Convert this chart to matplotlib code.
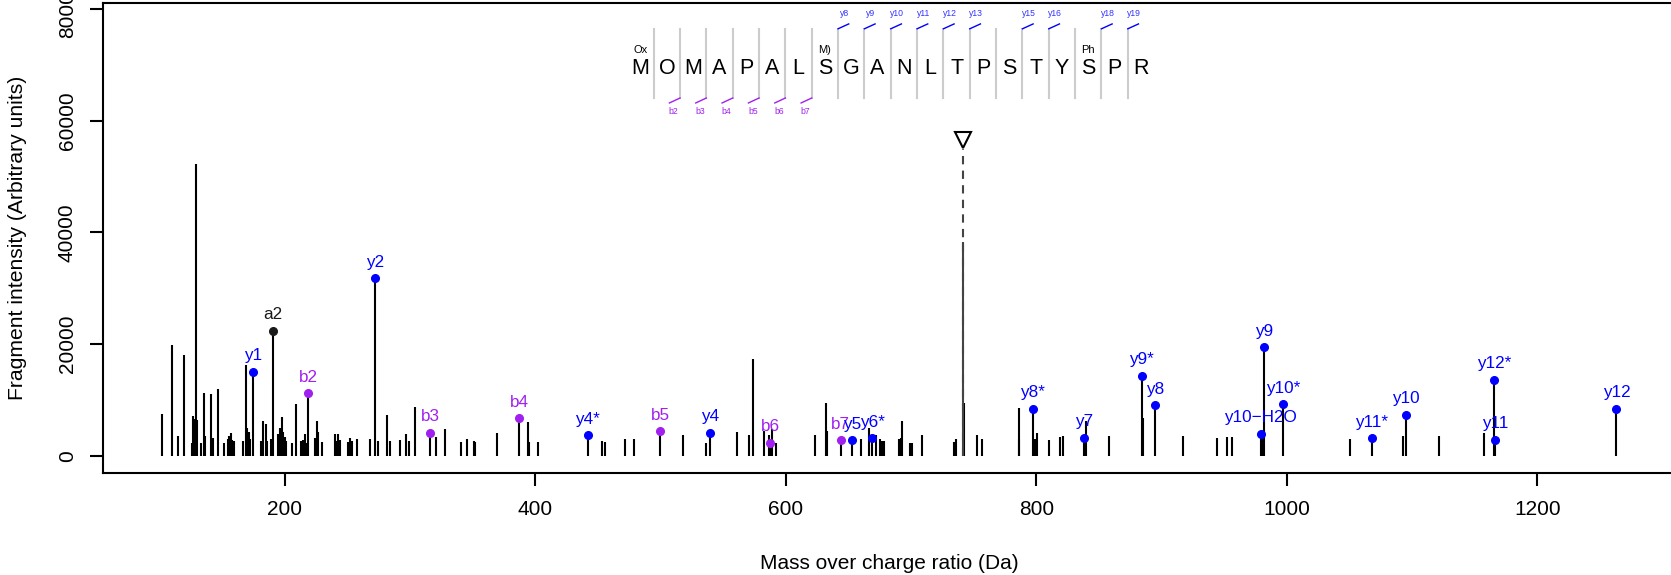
import matplotlib
matplotlib.use("Agg")
import matplotlib.pyplot as plt

plt.rcParams['font.family'] = ['Liberation Sans', 'DejaVu Sans']

# unassigned fragment peaks (m/z, intensity)
peak_mz = [101.7, 110.0, 115.0, 119.8, 125.7, 127.0, 128.1, 129.2, 130.2, 133.0,
           135.6, 136.4, 141.2, 143.0, 147.0, 151.5, 154.5, 155.9, 157.1, 158.2,
           159.5, 167.0, 168.9, 170.3, 171.4, 172.6, 180.8, 182.9, 184.8, 186.1,
           188.8, 194.9, 196.3, 197.7, 199.0, 200.2, 201.3, 205.6, 209.0, 212.8,
           214.4, 216.1, 217.6, 224.2, 225.6, 226.8, 229.9, 240.2, 241.5, 242.6,
           243.9, 250.8, 252.2, 254.0, 258.0, 268.1, 274.3, 281.9, 283.8, 292.1,
           296.8, 299.0, 303.8, 321.0, 328.2, 341.0, 345.5, 350.9, 352.2, 369.3,
           394.3, 395.3, 402.5, 453.6, 456.0, 472.0, 478.9, 518.0, 536.1, 560.9,
           571.0, 573.9, 582.9, 586.6, 589.3, 592.3, 623.1, 632.2, 633.2, 660.1,
           666.7, 671.9, 675.3, 676.9, 678.5, 690.5, 691.8, 692.9, 699.3, 701.1,
           709.1, 734.4, 735.7, 742.2, 753.0, 757.0, 786.0, 786.5, 799.3, 800.9,
           810.0, 819.0, 821.1, 839.7, 858.1, 885.0, 917.4, 944.1, 952.1, 956.1,
           980.0, 1050.3, 1093.1, 1121.4, 1157.3]
peak_int = [7440, 19800, 3550, 18000, 2240, 7130, 6600, 52240, 6400, 2240,
            11320, 3550, 11140, 3260, 12030, 2330, 3080, 3550, 4180, 2870,
            2690, 2690, 16270, 4900, 4300, 2970, 2690, 6270, 5680, 2690,
            3000, 4000, 5000, 7020, 4300, 3300, 2690, 2300, 9200, 2690,
            2870, 4000, 2390, 3200, 6270, 4300, 2500, 3880, 2690, 3880,
            2870, 2500, 3170, 2690, 3100, 3080, 2690, 7320, 2630, 2870,
            4000, 2690, 8810, 3460, 4830, 2450, 2990, 2630, 2450, 4120,
            6130, 2570, 2570, 2690, 2450, 3040, 3040, 3760, 2330, 4240,
            3820, 17290, 4450, 3820, 4750, 2390, 3820, 9530, 4420, 3020,
            5050, 3700, 3100, 2690, 2690, 3100, 3220, 6240, 2390, 2390,
            3820, 2570, 3000, 9530, 3820, 3000, 3100, 8640, 2990, 4030,
            2870, 3460, 3640, 6240, 3640, 6840, 3640, 3280, 3460, 3460,
            3700, 3080, 3550, 3550, 4030]

# assigned fragment ions
ion_labels = ["y1", "a2", "b2", "y2", "b3", "b4", "y4*", "b5", "y4", "b6",
              "b7", "y5", "y6*", "y8*", "y7", "y9*", "y8", "y10\u2212H2O", "y9", "y10*",
              "y11*", "y10", "y12*", "y11", "y12"]
ion_mz = [174.9, 190.9, 218.8, 272.2, 316.0, 387.1, 441.9, 499.9, 539.8, 587.5,
          643.9, 653.2, 669.2, 797.2, 837.9, 884.2, 895.1, 979.2, 982.1, 997.3,
          1068.1, 1095.3, 1165.3, 1166.1, 1263.2]
ion_int = [15090, 22360, 11200, 31770, 4160, 6720, 3670, 4390, 4160, 2360,
           2780, 2780, 3140, 8460, 3190, 14300, 9050, 3910, 19440, 9230,
           3140, 7310, 13580, 2900, 8460]

# precursor
prec_mz = 741.2
prec_int = 38200
prec_marker = 56500

# peptide annotation
sequence = "MOMAPALSGANLTPSTYSPR"
mods = {0: "Ox", 7: "M)", 17: "Ph"}
y_ions = [8, 9, 10, 11, 12, 13, 15, 16, 18, 19]
b_ions = [2, 3, 4, 5, 6, 7]

ion_colors = {"y": "#0000FF", "b": "#A020F0", "a": "#1a1a1a"}

fig = plt.figure(figsize=(16.71, 5.75), dpi=100)
W, H = 1671, 575
ax = fig.add_axes([103.3 / W, 1 - 473.3 / H, (1675 - 103.3) / W, (473.3 - 2.7) / H])
ax.set_xlim(55.2, 1310)
ax.set_ylim(-3120, 81120)

ax.vlines(peak_mz, 0, peak_int, colors="black", lw=1.5)
ax.vlines(ion_mz, 0, ion_int, colors="black", lw=1.5)

# precursor marker
ax.vlines([prec_mz], 0, [prec_int], colors="#444444", lw=1.5)
ax.plot([prec_mz, prec_mz], [0, prec_marker - 1500], color="#444444", lw=1.5,
        linestyle=(0, (4, 3)))
ax.plot([prec_mz], [prec_marker], marker="v", ms=11, mfc="white", mec="black", mew=1.5)

for lab, x, y in zip(ion_labels, ion_mz, ion_int):
    c = ion_colors[lab[0]]
    ax.plot([x], [y], "o", color=c, ms=5.5, zorder=4)
    ax.annotate(lab, (x, y), xytext=(0, 8.4), textcoords="offset points",
                ha="center", va="baseline", color=c, fontsize=12.3, zorder=5)

# sequence header
x0 = 484.1
step = 21.03
for i, aa in enumerate(sequence):
    ax.text(x0 + i * step, 68320, aa, ha="center", va="baseline", fontsize=15.5)
    if i in mods:
        ax.text(x0 + i * step, 72120, mods[i], ha="center", va="baseline", fontsize=8)
for k in range(1, len(sequence)):
    sx = x0 + (k - 0.5) * step
    ax.plot([sx, sx], [64060, 76450], color="#cccccc", lw=1.5)
    if k in y_ions:
        ax.plot([sx, sx + 8.5], [76450, 77320], color="#0000FF", lw=1)
        ax.text(sx + 5, 78780, "y%d" % k, ha="center", va="baseline", fontsize=6.2,
                color="#3333ff")
    if k in b_ions:
        ax.plot([sx, sx - 8.5], [64060, 63170], color="#A020F0", lw=1)
        ax.text(sx - 5, 61200, "b%d" % k, ha="center", va="baseline", fontsize=6.2,
                color="#A020F0")

ax.set_xticks([200, 400, 600, 800, 1000, 1200])
ax.set_yticks([0, 20000, 40000, 60000, 80000])
ax.tick_params(direction="out", length=9.6, width=1.5, labelsize=15, pad=9.5)
ax.tick_params(axis="y", labelrotation=90)
for t in ax.get_yticklabels():
    t.set_va("center")
for s in ax.spines.values():
    s.set_linewidth(1.5)

fig.text(889 / W, 1 - 563.3 / H, "Mass over charge ratio (Da)", ha="center", va="center",
         fontsize=15)
fig.text(18 / W, 1 - 238 / H, "Fragment intensity (Arbitrary units)", ha="center",
         va="center", rotation=90, fontsize=15.2)

fig.savefig("out.png", dpi=100)
